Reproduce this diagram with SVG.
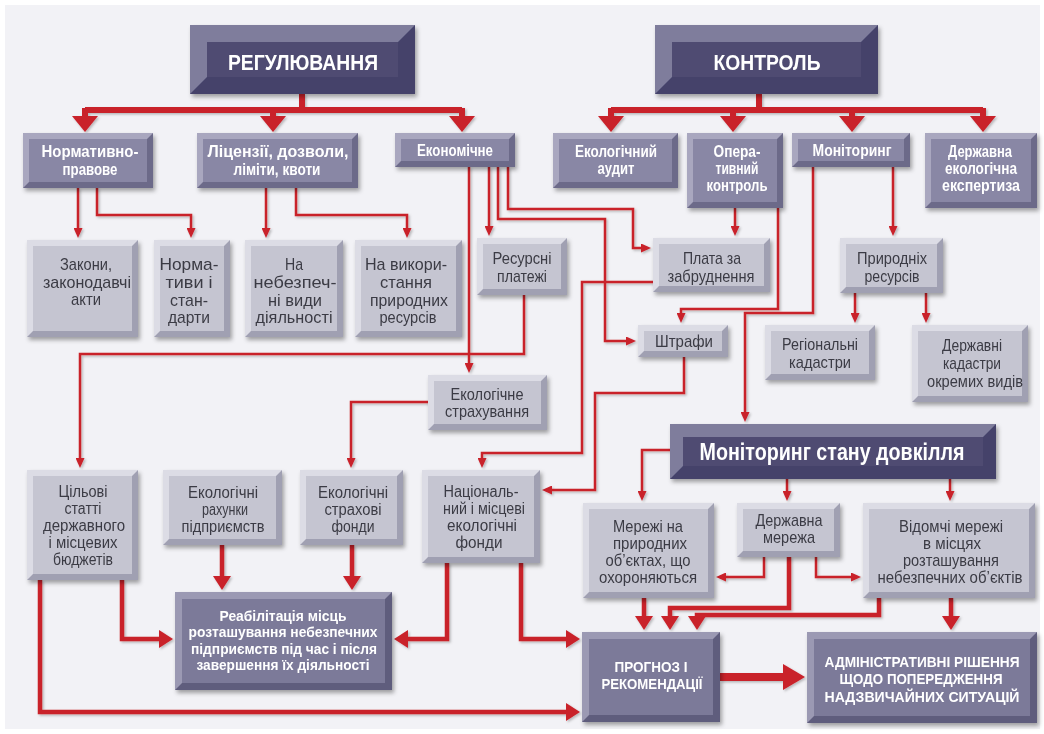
<svg xmlns="http://www.w3.org/2000/svg" width="1044" height="734" viewBox="0 0 1044 734">
<style>
text{font-family:'Liberation Sans',Arial,sans-serif;text-anchor:middle}
.tw{fill:#ffffff;font-weight:bold;font-size:17px}
.tk{fill:#3b3b44;font-size:17px}
.tk6{fill:#3b3b44;font-size:16px}
.tb{fill:#ffffff;font-weight:bold;font-size:15px}
.tc{fill:#ffffff;font-weight:bold;font-size:14px}
.th{fill:#ffffff;font-weight:bold;font-size:22px}
.node{filter:url(#sh)}
.lt .o{fill:#a0a0b2}.lt .l{fill:#dcdce5}.lt .f{fill:#c5c5d1}
.md .o{fill:#6c6a89}.md .l{fill:#a9a7bf}.md .f{fill:#8987a5}
.dk .o{fill:#5f5d7d}.dk .l{fill:#9b99b3}.dk .f{fill:#7c7a99}
.hd .o{fill:#45436a}.hd .l{fill:#7f7d9c}.hd .f{fill:#4f4c72}
.c{fill:none;stroke:#c9202a;stroke-linejoin:miter}
.s{stroke-width:2.5;marker-end:url(#aS)}
.m{stroke-width:4.5;marker-end:url(#aM)}
.b{stroke-width:6}
#conn{filter:url(#shc)}
</style>
<defs>
<filter id="sh" x="-10%" y="-10%" width="130%" height="140%"><feDropShadow dx="2" dy="3" stdDeviation="2" flood-color="#000" flood-opacity="0.35"/></filter>
<filter id="shc" x="-5%" y="-5%" width="110%" height="110%"><feDropShadow dx="1.5" dy="1.5" stdDeviation="1" flood-color="#000" flood-opacity="0.25"/></filter>
<marker id="aS" viewBox="0 0 10 9" markerWidth="10" markerHeight="9" refX="1" refY="4.5" orient="auto" markerUnits="userSpaceOnUse"><path d="M0,0 L10,4.5 L0,9 z" fill="#c9202a"/></marker>
<marker id="aM" viewBox="0 0 14 18" markerWidth="14" markerHeight="18" refX="1" refY="9" orient="auto" markerUnits="userSpaceOnUse"><path d="M0,0 L14,9 L0,18 z" fill="#c9202a"/></marker>
<marker id="aH" viewBox="0 0 16 26" markerWidth="16" markerHeight="26" refX="1" refY="13" orient="auto" markerUnits="userSpaceOnUse"><path d="M0,0 L16,13 L0,26 z" fill="#c9202a"/></marker>
<marker id="aX" viewBox="0 0 22 26" markerWidth="22" markerHeight="26" refX="1" refY="13" orient="auto" markerUnits="userSpaceOnUse"><path d="M0,0 L22,13 L0,26 z" fill="#c9202a"/></marker>
</defs>
<rect x="0" y="0" width="1044" height="734" fill="#ffffff"/>
<rect x="5" y="5" width="1035" height="724" fill="#f2f2f6"/>

<g id="conn">
<path class="c b" d="M302,94 V110 M85,110 H462"/>
<path class="c b" d="M85,108 V117" marker-end="url(#aH)"/>
<path class="c b" d="M273,108 V117" marker-end="url(#aH)"/>
<path class="c b" d="M462,108 V117" marker-end="url(#aH)"/>
<path class="c b" d="M759,94 V110 M611,110 H983"/>
<path class="c b" d="M611,108 V117" marker-end="url(#aH)"/>
<path class="c b" d="M733,108 V117" marker-end="url(#aH)"/>
<path class="c b" d="M852,108 V117" marker-end="url(#aH)"/>
<path class="c b" d="M983,108 V117" marker-end="url(#aH)"/>

<path class="c s" d="M78,188 V229"/>
<path class="c s" d="M97,188 V215 H191 V229"/>
<path class="c s" d="M266,188 V229"/>
<path class="c s" d="M296,188 V215 H407 V229"/>
<path class="c s" d="M489,167 V227"/>
<path class="c s" d="M508,167 V209 H633 V248 H642"/>
<path class="c s" d="M498,167 V219 H605 V341 H627"/>
<path class="c s" d="M469,167 V364"/>
<path class="c s" d="M524,295 V354 H80 V459"/>
<path class="c s" d="M428,402 H351 V459"/>
<path class="c s" d="M653,282 H582 V453 H482 V459"/>
<path class="c s" d="M684,357 V393 H595 V490 H551"/>
<path class="c s" d="M735,208 V227"/>
<path class="c s" d="M778,208 V309 H681 V314"/>
<path class="c s" d="M813,167 V313 H745 V413"/>
<path class="c s" d="M893,167 V227"/>
<path class="c s" d="M855,293 V314"/>
<path class="c s" d="M926,293 V314"/>
<path class="c s" d="M670,450 H642 V492"/>
<path class="c s" d="M787,479 V492"/>
<path class="c s" d="M950,479 V492"/>
<path class="c s" d="M764,557 V577 H725"/>
<path class="c s" d="M816,557 V577 H852"/>

<path class="c m" d="M122,580 V639 H160"/>
<path class="c m" d="M222,545 V577"/>
<path class="c m" d="M352,545 V577"/>
<path class="c m" d="M447,563 V639 H407"/>
<path class="c m" d="M521,563 V639 H567"/>
<path class="c m" d="M40,580 V712 H567"/>
<path class="c m" d="M644,598 V617"/>
<path class="c m" d="M789,557 V608 H670 V617"/>
<path class="c m" d="M879,598 V615 H697 V617"/>
<path class="c m" d="M951,598 V617"/>
<path class="c" d="M720,677 H784" stroke-width="8" marker-end="url(#aX)"/>
</g>

<g id="n-reg" class="node hd"><rect class="o" x="190" y="25" width="225" height="69"/><polygon class="l" points="190,25 415,25 398,42 207,42 207,77 190,94"/><rect class="f" x="207" y="42" width="191" height="35"/>
<text class="th" x="303" y="70" textLength="150" lengthAdjust="spacingAndGlyphs">РЕГУЛЮВАННЯ</text></g>
<g id="n-ctl" class="node hd"><rect class="o" x="655" y="25" width="223" height="69"/><polygon class="l" points="655,25 878,25 861,42 672,42 672,77 655,94"/><rect class="f" x="672" y="42" width="189" height="35"/>
<text class="th" x="767" y="70" textLength="107" lengthAdjust="spacingAndGlyphs">КОНТРОЛЬ</text></g>
<g id="n-msd" class="node hd"><rect class="o" x="670" y="424" width="326" height="55"/><polygon class="l" points="670,424 996,424 983,437 683,437 683,466 670,479"/><rect class="f" x="683" y="437" width="300" height="29"/>
<text class="th" x="832" y="460" style="font-size:23px" textLength="265" lengthAdjust="spacingAndGlyphs">Моніторинг стану довкілля</text></g>

<g id="n-norm" class="node md"><rect class="o" x="23" y="133" width="130" height="55"/><polygon class="l" points="23,133 153,133 147,139 29,139 29,182 23,188"/><rect class="f" x="29" y="139" width="118" height="43"/>
<text class="tw" x="90" y="157" textLength="97" lengthAdjust="spacingAndGlyphs">Нормативно-</text><text class="tw" x="90" y="175" textLength="55" lengthAdjust="spacingAndGlyphs">правове</text></g>
<g id="n-lic" class="node md"><rect class="o" x="197" y="133" width="161" height="55"/><polygon class="l" points="197,133 358,133 352,139 203,139 203,182 197,188"/><rect class="f" x="203" y="139" width="149" height="43"/>
<text class="tw" x="278" y="157" textLength="141" lengthAdjust="spacingAndGlyphs">Ліцензії, дозволи,</text><text class="tw" x="277" y="175" textLength="87" lengthAdjust="spacingAndGlyphs">ліміти, квоти</text></g>
<g id="n-econ" class="node md"><rect class="o" x="395" y="133" width="120" height="34"/><polygon class="l" points="395,133 515,133 509,139 401,139 401,161 395,167"/><rect class="f" x="401" y="139" width="108" height="22"/>
<text class="tw" x="455" y="156" textLength="76" lengthAdjust="spacingAndGlyphs">Економічне</text></g>
<g id="n-audit" class="node md"><rect class="o" x="553" y="133" width="125" height="55"/><polygon class="l" points="553,133 678,133 672,139 559,139 559,182 553,188"/><rect class="f" x="559" y="139" width="113" height="43"/>
<text class="tw" x="616" y="157" textLength="82" lengthAdjust="spacingAndGlyphs">Екологічний</text><text class="tw" x="616" y="174" textLength="37" lengthAdjust="spacingAndGlyphs">аудит</text></g>
<g id="n-oper" class="node md"><rect class="o" x="687" y="133" width="96" height="75"/><polygon class="l" points="687,133 783,133 777,139 693,139 693,202 687,208"/><rect class="f" x="693" y="139" width="84" height="63"/>
<text class="tw" x="737" y="157" textLength="47" lengthAdjust="spacingAndGlyphs">Опера-</text><text class="tw" x="737" y="174" textLength="43" lengthAdjust="spacingAndGlyphs">тивний</text><text class="tw" x="737" y="191" textLength="61" lengthAdjust="spacingAndGlyphs">контроль</text></g>
<g id="n-monit" class="node md"><rect class="o" x="792" y="133" width="118" height="34"/><polygon class="l" points="792,133 910,133 904,139 798,139 798,161 792,167"/><rect class="f" x="798" y="139" width="106" height="22"/>
<text class="tw" x="852" y="156" textLength="79" lengthAdjust="spacingAndGlyphs">Моніторинг</text></g>
<g id="n-expert" class="node md"><rect class="o" x="925" y="133" width="112" height="75"/><polygon class="l" points="925,133 1037,133 1031,139 931,139 931,202 925,208"/><rect class="f" x="931" y="139" width="100" height="63"/>
<text class="tw" x="980" y="157" textLength="64" lengthAdjust="spacingAndGlyphs">Державна</text><text class="tw" x="981" y="174" textLength="72" lengthAdjust="spacingAndGlyphs">екологічна</text><text class="tw" x="981" y="191" textLength="78" lengthAdjust="spacingAndGlyphs">експертиза</text></g>

<g id="n-zakony" class="node lt"><rect class="o" x="27" y="240" width="111" height="97"/><polygon class="l" points="27,240 138,240 132,246 33,246 33,331 27,337"/><rect class="f" x="33" y="246" width="99" height="85"/>
<text class="tk" x="86" y="270" textLength="52" lengthAdjust="spacingAndGlyphs">Закони,</text><text class="tk" x="87" y="288" textLength="88" lengthAdjust="spacingAndGlyphs">законодавчі</text><text class="tk" x="86" y="305" textLength="30" lengthAdjust="spacingAndGlyphs">акти</text></g>
<g id="n-normy" class="node lt"><rect class="o" x="154" y="240" width="76" height="97"/><polygon class="l" points="154,240 230,240 224,246 160,246 160,331 154,337"/><rect class="f" x="160" y="246" width="64" height="85"/>
<text class="tk" x="189" y="270" textLength="59" lengthAdjust="spacingAndGlyphs">Норма-</text><text class="tk" x="189" y="288" textLength="47" lengthAdjust="spacingAndGlyphs">тиви і</text><text class="tk" x="189" y="306" textLength="38" lengthAdjust="spacingAndGlyphs">стан-</text><text class="tk" x="189" y="323" textLength="42" lengthAdjust="spacingAndGlyphs">дарти</text></g>
<g id="n-nebez" class="node lt"><rect class="o" x="245" y="240" width="98" height="97"/><polygon class="l" points="245,240 343,240 337,246 251,246 251,331 245,337"/><rect class="f" x="251" y="246" width="86" height="85"/>
<text class="tk" x="294" y="270" textLength="18" lengthAdjust="spacingAndGlyphs">На</text><text class="tk" x="295" y="288" textLength="83" lengthAdjust="spacingAndGlyphs">небезпеч-</text><text class="tk" x="295" y="306" textLength="54" lengthAdjust="spacingAndGlyphs">ні види</text><text class="tk" x="294" y="323" textLength="77" lengthAdjust="spacingAndGlyphs">діяльності</text></g>
<g id="n-vykor" class="node lt"><rect class="o" x="355" y="240" width="107" height="97"/><polygon class="l" points="355,240 462,240 456,246 361,246 361,331 355,337"/><rect class="f" x="361" y="246" width="95" height="85"/>
<text class="tk" x="406" y="270" textLength="82" lengthAdjust="spacingAndGlyphs">На викори-</text><text class="tk" x="406" y="288" textLength="52" lengthAdjust="spacingAndGlyphs">стання</text><text class="tk" x="409" y="306" textLength="78" lengthAdjust="spacingAndGlyphs">природних</text><text class="tk" x="408" y="323" textLength="57" lengthAdjust="spacingAndGlyphs">ресурсів</text></g>
<g id="n-resursni" class="node lt"><rect class="o" x="477" y="238" width="90" height="57"/><polygon class="l" points="477,238 567,238 561,244 483,244 483,289 477,295"/><rect class="f" x="483" y="244" width="78" height="45"/>
<text class="tk" x="522" y="264" textLength="59" lengthAdjust="spacingAndGlyphs">Ресурсні</text><text class="tk" x="522" y="282" textLength="50" lengthAdjust="spacingAndGlyphs">платежі</text></g>
<g id="n-plata" class="node lt"><rect class="o" x="653" y="238" width="117" height="54"/><polygon class="l" points="653,238 770,238 764,244 659,244 659,286 653,292"/><rect class="f" x="659" y="244" width="105" height="42"/>
<text class="tk" x="712" y="264" textLength="58" lengthAdjust="spacingAndGlyphs">Плата за</text><text class="tk" x="711" y="282" textLength="87" lengthAdjust="spacingAndGlyphs">забруднення</text></g>
<g id="n-pryrod" class="node lt"><rect class="o" x="840" y="238" width="103" height="55"/><polygon class="l" points="840,238 943,238 937,244 846,244 846,287 840,293"/><rect class="f" x="846" y="244" width="91" height="43"/>
<text class="tk" x="892" y="264" textLength="70" lengthAdjust="spacingAndGlyphs">Природніх</text><text class="tk" x="892" y="282" textLength="55" lengthAdjust="spacingAndGlyphs">ресурсів</text></g>
<g id="n-shtrafy" class="node lt"><rect class="o" x="638" y="325" width="90" height="32"/><polygon class="l" points="638,325 728,325 722,331 644,331 644,351 638,357"/><rect class="f" x="644" y="331" width="78" height="20"/>
<text class="tk" x="684" y="347" textLength="58" lengthAdjust="spacingAndGlyphs">Штрафи</text></g>
<g id="n-region" class="node lt"><rect class="o" x="765" y="325" width="110" height="55"/><polygon class="l" points="765,325 875,325 869,331 771,331 771,374 765,380"/><rect class="f" x="771" y="331" width="98" height="43"/>
<text class="tk" x="820" y="350" textLength="76" lengthAdjust="spacingAndGlyphs">Регіональні</text><text class="tk" x="820" y="368" textLength="62" lengthAdjust="spacingAndGlyphs">кадастри</text></g>
<g id="n-derzhkad" class="node lt"><rect class="o" x="912" y="325" width="116" height="77"/><polygon class="l" points="912,325 1028,325 1022,331 918,331 918,396 912,402"/><rect class="f" x="918" y="331" width="104" height="65"/>
<text class="tk" x="972" y="351" textLength="60" lengthAdjust="spacingAndGlyphs">Державні</text><text class="tk" x="972" y="369" textLength="58" lengthAdjust="spacingAndGlyphs">кадастри</text><text class="tk" x="975" y="387" textLength="96" lengthAdjust="spacingAndGlyphs">окремих видів</text></g>
<g id="n-ekostrakh" class="node lt"><rect class="o" x="428" y="375" width="119" height="55"/><polygon class="l" points="428,375 547,375 541,381 434,381 434,424 428,430"/><rect class="f" x="434" y="381" width="107" height="43"/>
<text class="tk" x="487" y="400" textLength="73" lengthAdjust="spacingAndGlyphs">Екологічне</text><text class="tk" x="487" y="417" textLength="84" lengthAdjust="spacingAndGlyphs">страхування</text></g>
<g id="n-tsilovi" class="node lt"><rect class="o" x="27" y="470" width="111" height="110"/><polygon class="l" points="27,470 138,470 132,476 33,476 33,574 27,580"/><rect class="f" x="33" y="476" width="99" height="98"/>
<text class="tk6" x="83" y="497" textLength="49" lengthAdjust="spacingAndGlyphs">Цільові</text><text class="tk6" x="83" y="514" textLength="37" lengthAdjust="spacingAndGlyphs">статті</text><text class="tk6" x="84" y="531" textLength="82" lengthAdjust="spacingAndGlyphs">державного</text><text class="tk6" x="83" y="548" textLength="69" lengthAdjust="spacingAndGlyphs">і місцевих</text><text class="tk6" x="83" y="565" textLength="60" lengthAdjust="spacingAndGlyphs">бюджетів</text></g>
<g id="n-rakhunky" class="node lt"><rect class="o" x="163" y="470" width="119" height="75"/><polygon class="l" points="163,470 282,470 276,476 169,476 169,539 163,545"/><rect class="f" x="169" y="476" width="107" height="63"/>
<text class="tk6" x="223" y="498" textLength="70" lengthAdjust="spacingAndGlyphs">Екологічні</text><text class="tk6" x="225" y="515" textLength="46" lengthAdjust="spacingAndGlyphs">рахунки</text><text class="tk6" x="223" y="532" textLength="83" lengthAdjust="spacingAndGlyphs">підприємств</text></g>
<g id="n-strakhfondy" class="node lt"><rect class="o" x="300" y="470" width="103" height="75"/><polygon class="l" points="300,470 403,470 397,476 306,476 306,539 300,545"/><rect class="f" x="306" y="476" width="91" height="63"/>
<text class="tk6" x="353" y="498" textLength="70" lengthAdjust="spacingAndGlyphs">Екологічні</text><text class="tk6" x="353" y="515" textLength="57" lengthAdjust="spacingAndGlyphs">страхові</text><text class="tk6" x="353" y="532" textLength="43" lengthAdjust="spacingAndGlyphs">фонди</text></g>
<g id="n-natsional" class="node lt"><rect class="o" x="422" y="470" width="118" height="93"/><polygon class="l" points="422,470 540,470 534,476 428,476 428,557 422,563"/><rect class="f" x="428" y="476" width="106" height="81"/>
<text class="tk6" x="481" y="497" textLength="75" lengthAdjust="spacingAndGlyphs">Національ-</text><text class="tk6" x="484" y="514" textLength="82" lengthAdjust="spacingAndGlyphs">ний і місцеві</text><text class="tk6" x="482" y="531" textLength="70" lengthAdjust="spacingAndGlyphs">екологічні</text><text class="tk6" x="479" y="548" textLength="47" lengthAdjust="spacingAndGlyphs">фонди</text></g>
<g id="n-merezhi" class="node lt"><rect class="o" x="583" y="503" width="131" height="95"/><polygon class="l" points="583,503 714,503 708,509 589,509 589,592 583,598"/><rect class="f" x="589" y="509" width="119" height="83"/>
<text class="tk" x="648" y="532" textLength="70" lengthAdjust="spacingAndGlyphs">Мережі на</text><text class="tk" x="650" y="549" textLength="74" lengthAdjust="spacingAndGlyphs">природних</text><text class="tk" x="648" y="566" textLength="85" lengthAdjust="spacingAndGlyphs">об’єктах, що</text><text class="tk" x="648" y="583" textLength="98" lengthAdjust="spacingAndGlyphs">охороняються</text></g>
<g id="n-derzhmer" class="node lt"><rect class="o" x="737" y="503" width="103" height="54"/><polygon class="l" points="737,503 840,503 834,509 743,509 743,551 737,557"/><rect class="f" x="743" y="509" width="91" height="42"/>
<text class="tk" x="789" y="526" textLength="67" lengthAdjust="spacingAndGlyphs">Державна</text><text class="tk" x="789" y="543" textLength="52" lengthAdjust="spacingAndGlyphs">мережа</text></g>
<g id="n-vidomchi" class="node lt"><rect class="o" x="863" y="503" width="172" height="95"/><polygon class="l" points="863,503 1035,503 1029,509 869,509 869,592 863,598"/><rect class="f" x="869" y="509" width="160" height="83"/>
<text class="tk" x="951" y="532" textLength="104" lengthAdjust="spacingAndGlyphs">Відомчі мережі</text><text class="tk" x="952" y="549" textLength="58" lengthAdjust="spacingAndGlyphs">в місцях</text><text class="tk" x="951" y="566" textLength="96" lengthAdjust="spacingAndGlyphs">розташування</text><text class="tk" x="950" y="583" textLength="145" lengthAdjust="spacingAndGlyphs">небезпечних об’єктів</text></g>

<g id="n-reab" class="node dk"><rect class="o" x="175" y="592" width="217" height="98"/><polygon class="l" points="175,592 392,592 385,599 182,599 182,683 175,690"/><rect class="f" x="182" y="599" width="203" height="84"/>
<text class="tb" x="283" y="621" textLength="127" lengthAdjust="spacingAndGlyphs">Реабілітація місць</text><text class="tb" x="283" y="637" textLength="189" lengthAdjust="spacingAndGlyphs">розташування небезпечних</text><text class="tb" x="284" y="654" textLength="186" lengthAdjust="spacingAndGlyphs">підприємств під час і після</text><text class="tb" x="283" y="670" textLength="173" lengthAdjust="spacingAndGlyphs">завершення їх діяльності</text></g>
<g id="n-prognoz" class="node dk"><rect class="o" x="582" y="632" width="138" height="90"/><polygon class="l" points="582,632 720,632 713,639 589,639 589,715 582,722"/><rect class="f" x="589" y="639" width="124" height="76"/>
<text class="tc" x="651" y="672" textLength="73" lengthAdjust="spacingAndGlyphs">ПРОГНОЗ І</text><text class="tc" x="652" y="689" textLength="101" lengthAdjust="spacingAndGlyphs">РЕКОМЕНДАЦІЇ</text></g>
<g id="n-admin" class="node dk"><rect class="o" x="807" y="632" width="230" height="91"/><polygon class="l" points="807,632 1037,632 1030,639 814,639 814,716 807,723"/><rect class="f" x="814" y="639" width="216" height="77"/>
<text class="tc" x="922" y="667" textLength="195" lengthAdjust="spacingAndGlyphs">АДМІНІСТРАТИВНІ РІШЕННЯ</text><text class="tc" x="921" y="684" textLength="163" lengthAdjust="spacingAndGlyphs">ЩОДО ПОПЕРЕДЖЕННЯ</text><text class="tc" x="922" y="702" textLength="195" lengthAdjust="spacingAndGlyphs">НАДЗВИЧАЙНИХ СИТУАЦІЙ</text></g>
</svg>
